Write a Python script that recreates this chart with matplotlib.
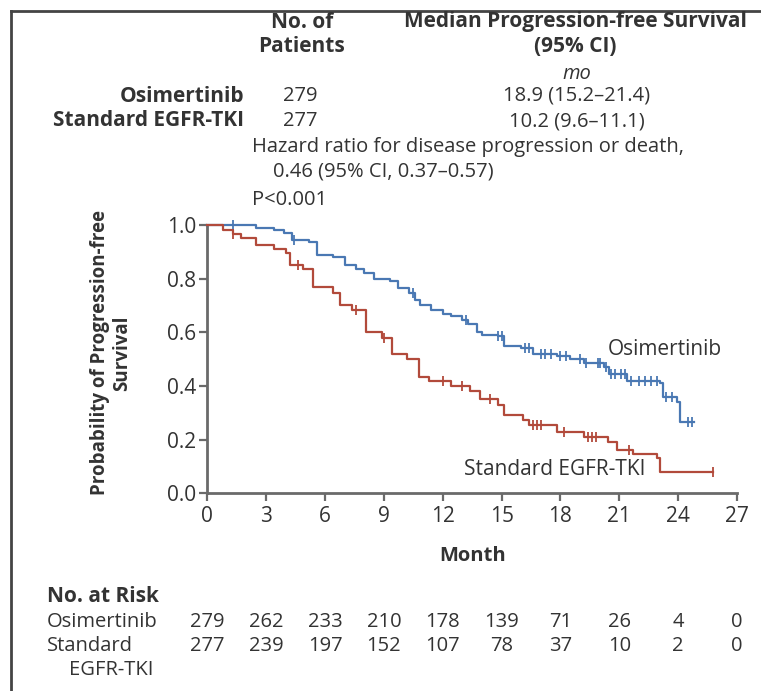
import numpy as np
import matplotlib
matplotlib.use("Agg")
import matplotlib.pyplot as plt

plt.rcParams['font.family'] = ['Open Sans', 'DejaVu Sans']

# ---------------- data ----------------
osi_time = [0, 2.5, 3.4, 3.9, 4.3, 5.2, 5.6, 6.4, 7.0, 7.6, 8.0, 8.5, 9.3, 9.7, 10.3, 10.6,
            10.85, 11.4, 12.0, 12.4, 13.0, 13.3, 13.75, 14.0, 14.8, 15.1, 16.0, 16.6, 17.8,
            18.5, 19.2, 20.2, 20.5, 21.4, 23.1, 23.25, 23.95, 24.1, 24.8]
osi_surv = [1.0, 0.99, 0.98, 0.97, 0.945, 0.935, 0.89, 0.88, 0.85, 0.835, 0.82, 0.80, 0.79,
            0.765, 0.745, 0.72, 0.70, 0.685, 0.67, 0.66, 0.645, 0.63, 0.60, 0.59, 0.585, 0.55,
            0.54, 0.52, 0.51, 0.50, 0.485, 0.472, 0.445, 0.42, 0.41, 0.36, 0.34, 0.265, 0.265]
osi_censor = [1.3, 4.4, 10.5, 13.2, 14.8, 15.0, 16.2, 16.4, 17.0, 17.2, 17.5, 18.0, 18.3, 19.0,
              19.3, 19.9, 20.0, 20.3, 20.6, 20.8, 21.1, 21.3, 21.6, 22.0, 22.3, 22.6, 22.9,
              23.4, 23.7, 24.5, 24.7]

std_time = [0, 0.8, 1.3, 1.7, 2.5, 3.4, 4.0, 4.2, 4.9, 5.4, 6.4, 6.75, 7.4, 8.1, 8.9, 9.4,
            10.2, 10.8, 11.3, 12.4, 13.4, 13.9, 14.8, 15.1, 16.1, 16.4, 17.8, 19.2, 20.4,
            20.9, 21.7, 22.9, 23.1, 25.8]
std_surv = [1.0, 0.98, 0.965, 0.95, 0.925, 0.91, 0.895, 0.85, 0.835, 0.77, 0.745, 0.70, 0.685,
            0.60, 0.58, 0.52, 0.50, 0.435, 0.42, 0.40, 0.38, 0.35, 0.33, 0.29, 0.275, 0.255,
            0.23, 0.21, 0.19, 0.16, 0.145, 0.13, 0.08, 0.08]
std_censor = [1.3, 4.6, 7.6, 9.0, 12.0, 13.0, 14.4, 16.6, 16.8, 17.0, 18.2, 19.4, 19.6, 19.8,
              21.5, 25.8]

month_ticks = [0, 3, 6, 9, 12, 15, 18, 21, 24, 27]
prob_ticks = [0.0, 0.2, 0.4, 0.6, 0.8, 1.0]
risk_osi = [279, 262, 233, 210, 178, 139, 71, 26, 4, 0]
risk_std = [277, 239, 197, 152, 107, 78, 37, 10, 2, 0]

BLUE = '#4a78b3'
RED = '#b24a3b'
GRAY = '#6a6a6a'
TXT = '#333333'

W, H = 761, 691
fig = plt.figure(figsize=(W / 100, H / 100), dpi=100)

def fx(px):
    return px / W

def fy(py):
    return 1 - py / H

ax = fig.add_axes([fx(207.3), fy(493.3), fx(737) - fx(207.3), fy(225) - fy(493.3)])

def step_value(times, surv, t):
    i = np.searchsorted(times, t, side='right') - 1
    return surv[max(i, 0)]

for t, s, c, col in [(osi_time, osi_surv, osi_censor, BLUE), (std_time, std_surv, std_censor, RED)]:
    ax.step(t, s, where='post', color=col, lw=1.6, clip_on=False, zorder=3)
    cy = [step_value(t, s, ct) for ct in c]
    ax.plot(c, cy, ls='none', marker='|', ms=7, mew=1.3, color=col, clip_on=False, zorder=4)

ax.set_xlim(0, 27)
ax.set_ylim(0, 1.0)
ax.set_xticks(month_ticks)
ax.set_xticklabels([str(m) for m in month_ticks])
ax.set_yticks(prob_ticks)
ax.set_yticklabels([f'{v:.1f}' for v in prob_ticks])
for sp in ['top', 'right']:
    ax.spines[sp].set_visible(False)
for sp in ['left', 'bottom']:
    ax.spines[sp].set_color(GRAY)
    ax.spines[sp].set_linewidth(2.0)
ax.tick_params(axis='both', colors=GRAY, labelcolor=TXT, labelsize=15, width=1.6, length=6,
               direction='out')
ax.tick_params(axis='x', pad=3)
ax.tick_params(axis='y', pad=2)

ax.set_xlabel('Month', fontsize=14.5, fontweight='bold', color=TXT, labelpad=14)
ax.set_ylabel('Probability of Progression-free\nSurvival', fontsize=13.5, fontweight='bold',
              color=TXT, linespacing=1.15)
ax.yaxis.set_label_coords(-0.142, 0.523)

ax.text(20.4, 0.535, 'Osimertinib', fontsize=15, color=TXT, ha='left', va='center')
ax.text(22.33, 0.087, 'Standard EGFR-TKI', fontsize=15, color=TXT, ha='right', va='center')

# ---- header table ----
fs = 14.5
fb = 15
fig.text(fx(302), fy(22), 'No. of', fontsize=fb, fontweight='bold', ha='center', va='center', color=TXT)
fig.text(fx(302), fy(46), 'Patients', fontsize=fb, fontweight='bold', ha='center', va='center', color=TXT)
fig.text(fx(575), fy(22), 'Median Progression-free Survival', fontsize=fb, fontweight='bold',
         ha='center', va='center', color=TXT)
fig.text(fx(575), fy(46), '(95% CI)', fontsize=fb, fontweight='bold', ha='center', va='center', color=TXT)
fig.text(fx(577), fy(74), 'mo', fontsize=fs, style='italic', ha='center', va='center', color=TXT)
fig.text(fx(244), fy(96), 'Osimertinib', fontsize=fb, fontweight='bold', ha='right', va='center', color=TXT)
fig.text(fx(244), fy(121), 'Standard EGFR-TKI', fontsize=fb, fontweight='bold', ha='right', va='center', color=TXT)
fig.text(fx(300), fy(96), '279', fontsize=fs, ha='center', va='center', color=TXT)
fig.text(fx(300), fy(121), '277', fontsize=fs, ha='center', va='center', color=TXT)
fig.text(fx(577), fy(96), '18.9 (15.2–21.4)', fontsize=fs, ha='center', va='center', color=TXT)
fig.text(fx(577), fy(121), '10.2 (9.6–11.1)', fontsize=fs, ha='center', va='center', color=TXT)
fig.text(fx(252), fy(147), 'Hazard ratio for disease progression or death,', fontsize=fs,
         ha='left', va='center', color=TXT)
fig.text(fx(273), fy(172), '0.46 (95% CI, 0.37–0.57)', fontsize=fs, ha='left', va='center', color=TXT)
fig.text(fx(252), fy(200), 'P<0.001', fontsize=fs, ha='left', va='center', color=TXT)

# ---- number at risk ----
fig.text(fx(47), fy(597), 'No. at Risk', fontsize=fb, fontweight='bold', ha='left', va='center', color=TXT)
fig.text(fx(47), fy(622), 'Osimertinib', fontsize=fs, ha='left', va='center', color=TXT)
fig.text(fx(47), fy(646), 'Standard', fontsize=fs, ha='left', va='center', color=TXT)
fig.text(fx(69), fy(670), 'EGFR-TKI', fontsize=fs, ha='left', va='center', color=TXT)
trans = matplotlib.transforms.blended_transform_factory(ax.transData, fig.transFigure)
for m, a, b in zip(month_ticks, risk_osi, risk_std):
    fig.text(m, fy(622), str(a), fontsize=fs, ha='center', va='center', color=TXT, transform=trans)
    fig.text(m, fy(646), str(b), fontsize=fs, ha='center', va='center', color=TXT, transform=trans)

# ---- frame (top + left) ----
fig.add_artist(plt.Line2D([fx(11), 1.0], [fy(11), fy(11)], color='#444444', lw=2.0))
fig.add_artist(plt.Line2D([fx(11), fx(11)], [fy(11), 0.0], color='#444444', lw=2.0))

fig.savefig('out.png', dpi=100)
